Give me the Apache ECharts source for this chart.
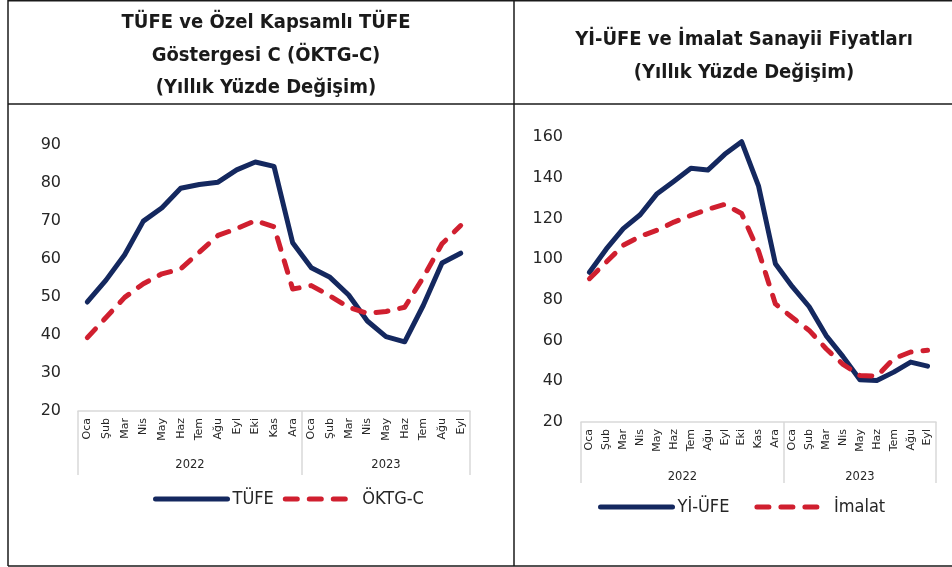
<!DOCTYPE html>
<html>
<head>
<meta charset="utf-8">
<script src="https://cdn.jsdelivr.net/npm/echarts@6/dist/echarts.min.js"></script>
<style>
  body { margin: 0; background: #fff; }
  #chart { width: 952px; height: 567px; }
</style>
</head>
<body>
<div id="chart"></div>
<script>
// aylar ve yıllar
const months = ['Oca', 'Şub', 'Mar', 'Nis', 'May', 'Haz', 'Tem', 'Ağu', 'Eyl', 'Eki', 'Kas', 'Ara',
  'Oca', 'Şub', 'Mar', 'Nis', 'May', 'Haz', 'Tem', 'Ağu', 'Eyl']
const years = ['2022', '2023']
const monthsPerYear = [12, 9]

// sol grafik
const tufe = [48.69, 54.44, 61.14, 69.97, 73.50, 78.62, 79.60, 80.21, 83.45, 85.51, 84.39, 64.27,
  57.68, 55.18, 50.51, 43.68, 39.59, 38.21, 47.83, 58.94, 61.53]
const oktgc = [39.3, 44.6, 49.9, 53.5, 56.1, 57.4, 61.8, 66.2, 68.0, 70.1, 68.5, 52.1,
  53.0, 50.3, 47.3, 45.7, 46.2, 47.3, 55.2, 64.0, 68.8]

// sağ grafik
const yiufe = [93.53, 105.01, 114.97, 121.82, 132.16, 138.31, 144.61, 143.75, 151.50, 157.69, 136.02, 97.72,
  86.46, 76.61, 62.45, 52.11, 40.76, 40.42, 44.50, 49.41, 47.44]
const imalat = [90.4, 98.6, 106.8, 111.2, 114.2, 118.2, 121.5, 124.5, 126.9, 122.4, 104.0, 78.0,
  71.3, 65.0, 56.0, 48.3, 42.9, 42.5, 51.1, 54.4, 55.2]

const NAVY = '#14285f'
const RED = '#d01f2f'
const GRID_LINE = '#d9d9d9'
const FONT = 'DejaVu Sans'
const FONT_C = '"DejaVu Sans Condensed", "DejaVu Sans"'

// yıl sınırları ve ortaları
const yearEdges = [0]
monthsPerYear.forEach((n) => yearEdges.push(yearEdges[yearEdges.length - 1] + n))
const yearCenters = years.map((y, i) => (yearEdges[i] + yearEdges[i + 1]) / 2)

const monthAxis = (gridIndex) => ({
  type: 'category',
  gridIndex: gridIndex,
  data: months,
  boundaryGap: true,
  axisLine: { lineStyle: { color: GRID_LINE, width: 1.5 } },
  axisTick: { show: false },
  axisLabel: {
    interval: 0,
    rotate: 90,
    margin: 7,
    color: '#262626',
    fontFamily: FONT,
    fontSize: 11,
  },
})

const yearAxis = (gridIndex, tickLen, labelMargin) => ({
  type: 'value',
  gridIndex: gridIndex,
  position: 'bottom',
  min: 0,
  max: months.length,
  axisLine: { show: false },
  splitLine: { show: false },
  axisTick: {
    show: true,
    customValues: yearEdges,
    length: tickLen,
    lineStyle: { color: GRID_LINE, width: 1.5 },
  },
  axisLabel: {
    customValues: yearCenters,
    margin: labelMargin,
    color: '#262626',
    fontFamily: FONT,
    fontSize: 11.5,
    formatter: (v) => years[yearCenters.indexOf(v)],
  },
})

const valueAxis = (gridIndex, min, max, interval, margin) => ({
  type: 'value',
  gridIndex: gridIndex,
  min: min,
  max: max,
  interval: interval,
  axisLine: { show: false },
  axisTick: { show: false },
  splitLine: { show: false },
  axisLabel: { margin: margin, color: '#262626', fontFamily: FONT, fontSize: 16 },
})

const solidLine = (name, data, idx) => ({
  name: name,
  type: 'line',
  xAxisIndex: idx,
  yAxisIndex: idx,
  data: data,
  symbol: 'none',
  lineStyle: { color: NAVY, width: 5, cap: 'round', join: 'round' },
  itemStyle: { color: NAVY },
})

const dashedLine = (name, data, idx) => ({
  name: name,
  type: 'line',
  xAxisIndex: idx,
  yAxisIndex: idx,
  data: data,
  symbol: 'none',
  lineStyle: { color: RED, width: 5, type: [12, 12], cap: 'round', join: 'round' },
  itemStyle: { color: RED },
})

const legendBase = {
  itemWidth: 72,
  itemHeight: 18,
  itemStyle: { opacity: 0 },
  lineStyle: { width: 5, cap: 'round' },
  textStyle: { fontFamily: FONT_C, fontSize: 18, color: '#262626' },
}

const border = (x1, y1, x2, y2) => ({
  type: 'line',
  shape: { x1: x1, y1: y1, x2: x2, y2: y2 },
  style: { stroke: '#1a1a1a', lineWidth: 1.5 },
  silent: true,
})

const chart = echarts.init(document.getElementById('chart'))

const option = {
  animation: false,
  title: [
    {
      text: 'TÜFE ve Özel Kapsamlı TÜFE\nGöstergesi C (ÖKTG-C)\n(Yıllık Yüzde Değişim)',
      left: 261,
      top: 2,
      textAlign: 'center',
      textStyle: { fontFamily: FONT_C, fontWeight: 'bold', fontSize: 20, lineHeight: 32.5, color: '#1a1a1a' },
    },
    {
      text: 'Yİ-ÜFE ve İmalat Sanayii Fiyatları\n(Yıllık Yüzde Değişim)',
      left: 739,
      top: 18,
      textAlign: 'center',
      textStyle: { fontFamily: FONT_C, fontWeight: 'bold', fontSize: 20, lineHeight: 33, color: '#1a1a1a' },
    },
  ],
  legend: [
    Object.assign({}, legendBase, {
      data: ['TÜFE', 'ÖKTG-C'],
      left: 148,
      top: 485,
      itemGap: 9,
    }),
    Object.assign({}, legendBase, {
      data: ['Yİ-ÜFE', 'İmalat'],
      left: 593,
      top: 493,
      itemGap: 25,
    }),
  ],
  grid: [
    { left: 78, top: 145, width: 392, height: 266 },
    { left: 581, top: 137, width: 355, height: 285 },
  ],
  xAxis: [monthAxis(0), monthAxis(1), yearAxis(0, 64, 48), yearAxis(1, 61, 49)],
  yAxis: [valueAxis(0, 20, 90, 10, 17), valueAxis(1, 20, 160, 20, 18)],
  series: [
    solidLine('TÜFE', tufe, 0),
    dashedLine('ÖKTG-C', oktgc, 0),
    solidLine('Yİ-ÜFE', yiufe, 1),
    dashedLine('İmalat', imalat, 1),
  ],
  graphic: [
    border(8, 0.75, 952, 0.75),
    border(8, 104, 952, 104),
    border(8, 566, 952, 566),
    border(8, 0, 8, 566),
    border(514, 0, 514, 566),
  ],
}

option && chart.setOption(option)
</script>
</body>
</html>
